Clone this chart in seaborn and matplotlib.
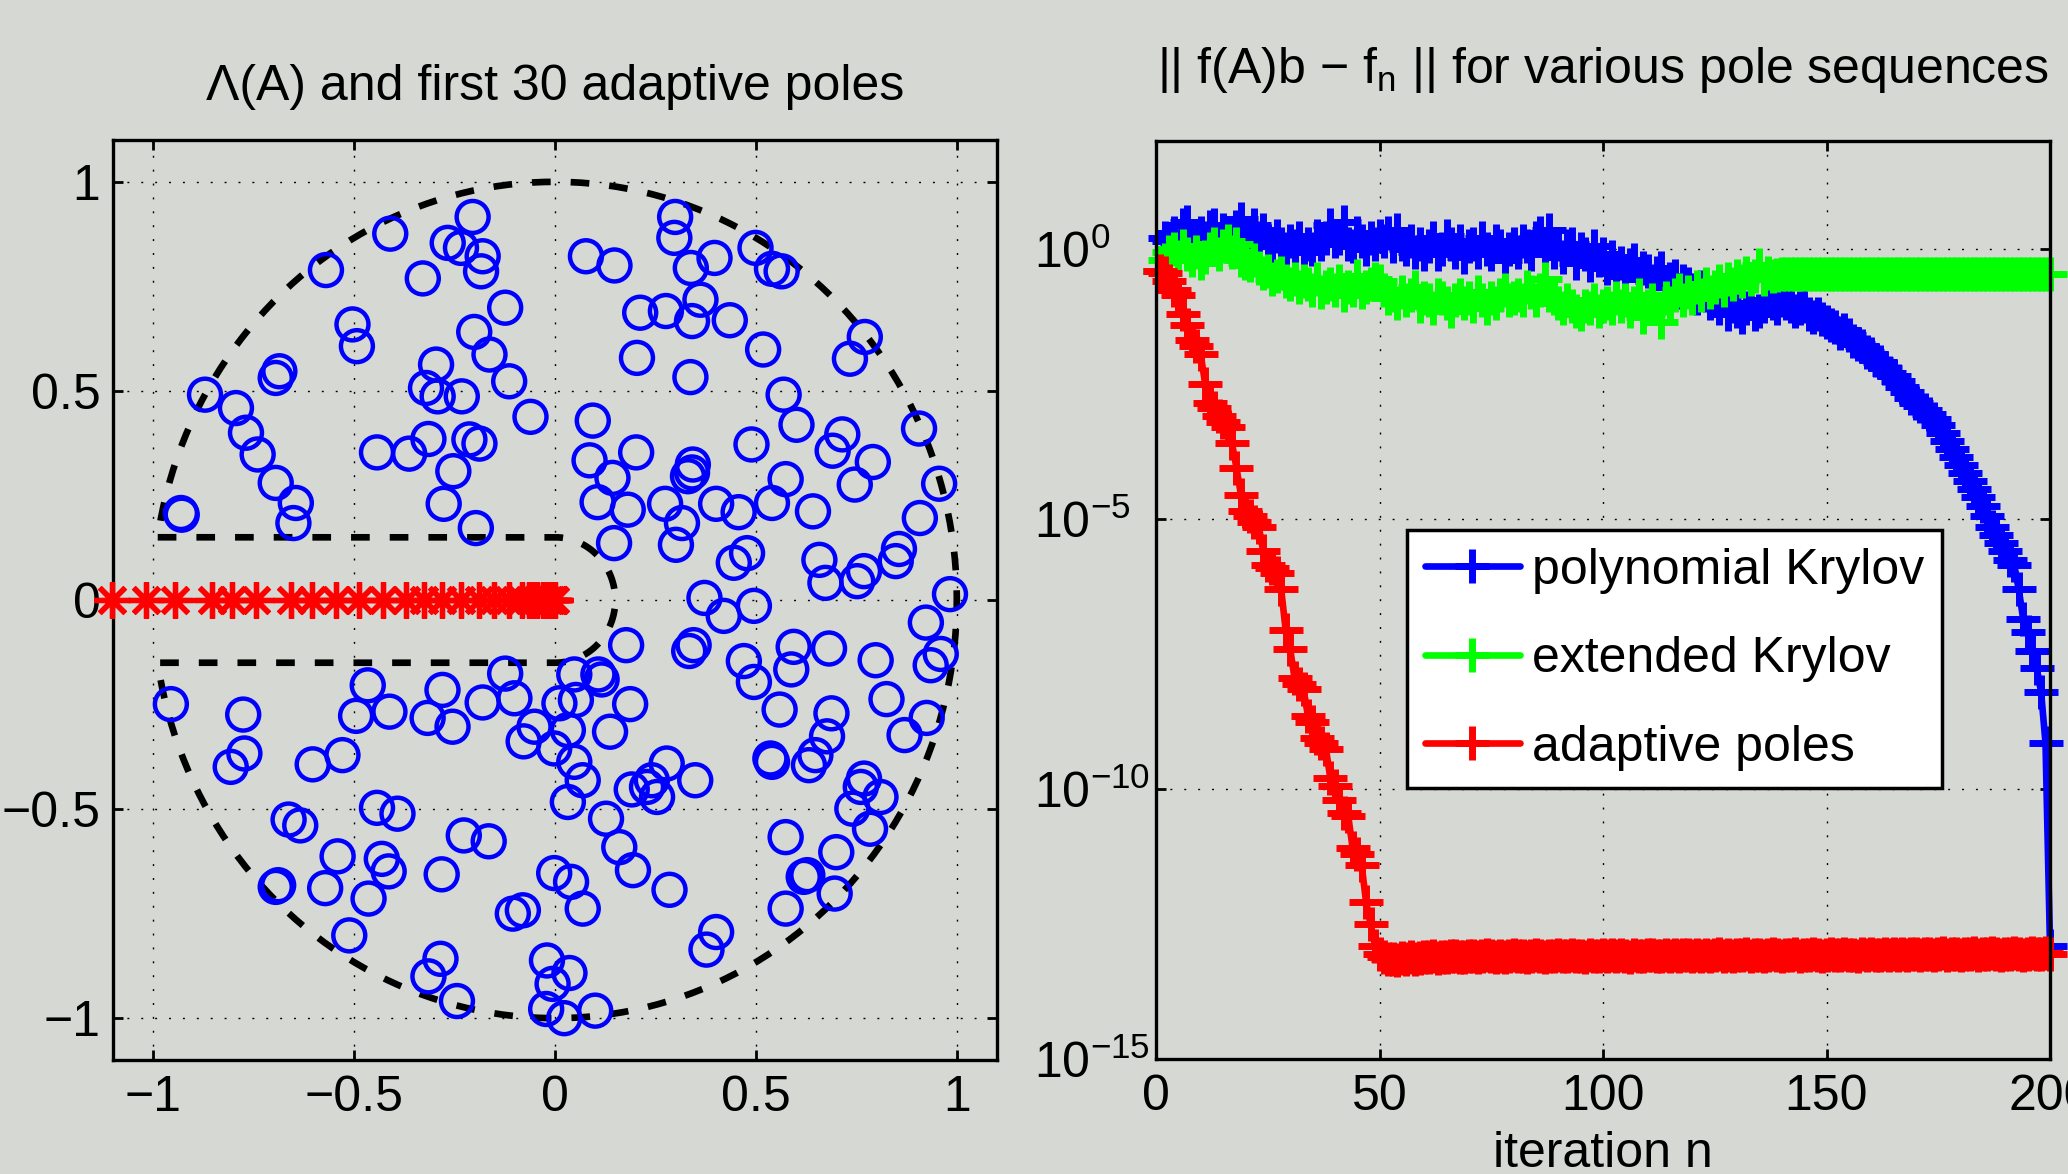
import numpy as np
import matplotlib
matplotlib.use("Agg")
import matplotlib.pyplot as plt
import seaborn as sns
from matplotlib.ticker import FixedLocator, NullLocator, LogFormatterMathtext

# ---- left panel data: eigenvalues of A (real / imaginary parts) ----
eig_re = [-0.410, -0.205, -0.267, -0.234, -0.180, -0.184, -0.329, -0.570, -0.124, -0.504,
          -0.493, -0.201, -0.163, -0.686, -0.695, -0.296, -0.321, -0.292, -0.232, -0.114,
          -0.871, -0.794, -0.769, -0.740, -0.695, -0.645, -0.651, -0.931, -0.929, -0.061,
          -0.443, -0.363, -0.315, -0.213, -0.188, -0.253, -0.277, -0.197,
          0.077, 0.148, 0.299, 0.297, 0.338, 0.397, 0.499, 0.540, 0.564, 0.362,
          0.212, 0.276, 0.341, 0.435, 0.204, 0.337, 0.518, 0.771, 0.734, 0.094,
          0.086, 0.202, 0.143, 0.106, 0.181, 0.147, 0.274, 0.316, 0.301, 0.343,
          0.341, 0.331, 0.401, 0.457, 0.489, 0.569, 0.601, 0.574, 0.540, 0.642,
          0.715, 0.691, 0.791, 0.746, 0.906, 0.956, 0.908, 0.856, 0.848, 0.478,
          0.445, 0.658, 0.673, 0.769, 0.752, 0.983, 0.372, 0.495, 0.420,
          -0.956, -0.776, -0.773, -0.807, -0.603, -0.529, -0.466, -0.495, -0.412, -0.280,
          -0.317, -0.255, -0.180, -0.124, -0.101, -0.051, -0.078, 0.011, 0.048, 0.052,
          0.032, -0.002, 0.048, 0.069, 0.032, -0.663, -0.634, -0.443, -0.392, -0.541,
          -0.431, -0.414, -0.572, -0.464, -0.695, -0.689, -0.512, -0.227, -0.165, -0.282,
          -0.105, -0.080, -0.002, 0.040, 0.069, -0.285, -0.315, -0.244, -0.020, 0.036,
          -0.006, -0.022, 0.023, 0.100,
          0.177, 0.345, 0.334, 0.108, 0.116, 0.187, 0.137, 0.278, 0.241, 0.229,
          0.254, 0.191, 0.349, 0.127, 0.160, 0.194, 0.285, 0.401, 0.377, 0.470,
          0.495, 0.559, 0.594, 0.588, 0.682, 0.536, 0.540, 0.632, 0.648, 0.677,
          0.688, 0.798, 0.825, 0.923, 0.960, 0.935, 0.925, 0.870, 0.769, 0.761,
          0.810, 0.740, 0.784, 0.574, 0.700, 0.628, 0.619, 0.696, 0.574]
eig_im = [0.876, 0.916, 0.854, 0.842, 0.822, 0.786, 0.769, 0.789, 0.699, 0.659,
          0.607, 0.641, 0.587, 0.547, 0.531, 0.563, 0.507, 0.487, 0.487, 0.523,
          0.491, 0.459, 0.400, 0.348, 0.280, 0.232, 0.184, 0.208, 0.204, 0.438,
          0.353, 0.350, 0.385, 0.384, 0.374, 0.308, 0.230, 0.172,
          0.822, 0.800, 0.916, 0.866, 0.794, 0.818, 0.842, 0.792, 0.786, 0.718,
          0.687, 0.691, 0.667, 0.669, 0.579, 0.533, 0.599, 0.629, 0.577, 0.429,
          0.334, 0.353, 0.292, 0.234, 0.216, 0.136, 0.230, 0.184, 0.132, 0.324,
          0.305, 0.296, 0.230, 0.210, 0.372, 0.491, 0.419, 0.289, 0.232, 0.212,
          0.396, 0.357, 0.330, 0.276, 0.410, 0.278, 0.196, 0.122, 0.093, 0.112,
          0.089, 0.096, 0.041, 0.069, 0.045, 0.014, 0.005, -0.014, -0.038,
          -0.249, -0.274, -0.367, -0.399, -0.393, -0.371, -0.204, -0.277, -0.267, -0.215,
          -0.282, -0.303, -0.245, -0.176, -0.235, -0.303, -0.338, -0.247, -0.178, -0.239,
          -0.311, -0.355, -0.387, -0.431, -0.483, -0.525, -0.539, -0.497, -0.511, -0.613,
          -0.619, -0.649, -0.689, -0.714, -0.686, -0.682, -0.802, -0.563, -0.577, -0.656,
          -0.750, -0.742, -0.653, -0.674, -0.738, -0.858, -0.900, -0.959, -0.862, -0.892,
          -0.918, -0.978, -1.000, -0.982,
          -0.108, -0.108, -0.122, -0.178, -0.190, -0.249, -0.315, -0.391, -0.431, -0.447,
          -0.471, -0.453, -0.431, -0.523, -0.591, -0.646, -0.693, -0.794, -0.836, -0.146,
          -0.196, -0.262, -0.112, -0.166, -0.116, -0.379, -0.387, -0.395, -0.371, -0.326,
          -0.271, -0.144, -0.237, -0.054, -0.129, -0.156, -0.282, -0.323, -0.427, -0.447,
          -0.471, -0.499, -0.547, -0.567, -0.603, -0.658, -0.662, -0.702, -0.738]

# first 30 adaptive poles (all on the negative real axis)
pole_re = [-1.102, -1.019, -0.946, -0.853, -0.803, -0.745, -0.658, -0.604, -0.545, -0.487,
           -0.429, -0.371, -0.326, -0.280, -0.234, -0.189, -0.151, -0.114, -0.081, -0.064,
           -0.056, -0.045, -0.031, -0.022, -0.014, -0.009, -0.006, -0.003, -0.002, -0.001]

# region boundary (unit disc with slit of half-width 0.15)
disc_radius = 1.0
slit_halfwidth = 0.15

# ---- right panel data: log10 of || f(A)b - f_n || ----
iters = list(range(1, 201))
log_err_poly = [
    -0.40, 0.20, 0.15, 0.30, 0.05, 0.45, 0.50, 0.25, 0.10, 0.30,
    0.20, 0.40, 0.45, 0.15, 0.35, 0.10, 0.20, 0.40, 0.55, 0.30,
    0.25, 0.45, 0.20, 0.35, 0.15, 0.05, 0.25, 0.10, 0.00, 0.15,
    0.05, 0.20, -0.05, 0.10, 0.00, 0.25, 0.10, 0.20, 0.45, 0.15,
    0.20, 0.50, 0.10, 0.05, 0.30, 0.15, 0.00, 0.20, 0.10, 0.25,
    0.15, 0.30, 0.05, 0.35, 0.10, 0.00, 0.15, -0.05, 0.10, -0.10,
    0.05, 0.20, -0.10, 0.00, 0.25, 0.10, -0.05, 0.15, -0.15, 0.05,
    0.10, -0.05, 0.20, 0.00, -0.10, 0.15, 0.05, -0.20, 0.00, 0.10,
    -0.05, 0.15, 0.05, -0.10, 0.20, 0.30, 0.00, 0.35, -0.05, 0.10,
    -0.15, 0.05, 0.10, -0.25, 0.00, -0.10, -0.30, 0.05, -0.20, -0.10,
    -0.35, -0.15, -0.45, -0.25, -0.50, -0.30, -0.20, -0.55, -0.35, -0.40,
    -0.60, -0.45, -0.35, -0.70, -0.55, -0.50, -0.80, -0.60, -0.65, -0.75,
    -0.90, -0.70, -0.85, -1.00, -0.95, -1.10, -0.90, -1.20, -1.05, -1.15,
    -1.25, -1.10, -1.00, -1.20, -1.15, -1.05, -0.95, -1.00, -1.10, -0.95,
    -1.00, -1.05, -1.15, -1.10, -1.05, -1.20, -1.25, -1.20, -1.30, -1.35,
    -1.40, -1.45, -1.55, -1.50, -1.60, -1.70, -1.75, -1.80, -1.90, -1.95,
    -2.05, -2.10, -2.20, -2.30, -2.35, -2.45, -2.55, -2.65, -2.75, -2.85,
    -2.90, -2.98, -3.05, -3.15, -3.25, -3.40, -3.55, -3.70, -3.85, -4.00,
    -4.15, -4.30, -4.45, -4.60, -4.75, -4.95, -5.15, -5.30, -5.45, -5.60,
    -5.75, -5.85, -6.30, -6.85, -7.10, -7.45, -7.75, -8.20, -9.15, -12.90]
log_err_ext = [
    -0.40, -0.20, -0.05, 0.00, -0.15, 0.05, -0.10, -0.20, -0.05, -0.25,
    -0.15, 0.00, 0.10, -0.10, 0.05, 0.15, -0.05, 0.10, -0.20, -0.25,
    -0.30, -0.20, -0.35, -0.45, -0.40, -0.55, -0.50, -0.45, -0.60, -0.65,
    -0.55, -0.70, -0.60, -0.65, -0.75, -0.55, -0.80, -0.70, -0.65, -0.75,
    -0.60, -0.85, -0.70, -0.75, -0.50, -0.80, -0.70, -0.65, -0.55, -0.60,
    -0.75, -0.90, -0.85, -1.00, -0.80, -0.95, -0.85, -0.70, -1.05, -0.90,
    -0.95, -1.10, -0.85, -0.90, -1.00, -1.15, -0.95, -0.85, -1.00, -0.90,
    -1.05, -0.80, -0.95, -1.10, -0.90, -1.00, -0.85, -0.75, -0.95, -0.90,
    -0.85, -0.95, -0.70, -0.80, -0.95, -0.75, -0.55, -0.85, -0.90, -1.00,
    -1.10, -0.95, -1.05, -1.15, -1.20, -1.05, -1.10, -0.95, -1.15, -1.05,
    -1.00, -1.10, -0.90, -1.05, -0.95, -1.15, -1.00, -0.85, -1.25, -1.05,
    -0.95, -1.10, -1.35, -0.90, -1.00, -0.85, -0.75, -0.95, -0.80, -0.90,
    -0.70, -0.85, -0.65, -0.80, -0.70, -0.60, -0.75, -0.55, -0.65, -0.50,
    -0.60, -0.45, -0.55, -0.50, -0.30, -0.55, -0.45, -0.50, -0.48, -0.47,
    -0.47, -0.47, -0.47, -0.47, -0.47, -0.47, -0.47, -0.47, -0.47, -0.47,
    -0.47, -0.47, -0.47, -0.47, -0.47, -0.47, -0.47, -0.47, -0.47, -0.47,
    -0.47, -0.47, -0.47, -0.47, -0.47, -0.47, -0.47, -0.47, -0.47, -0.47,
    -0.47, -0.47, -0.47, -0.47, -0.47, -0.47, -0.47, -0.47, -0.47, -0.47,
    -0.47, -0.47, -0.47, -0.47, -0.47, -0.47, -0.47, -0.47, -0.47, -0.47,
    -0.47, -0.47, -0.47, -0.47, -0.47, -0.47, -0.47, -0.47, -0.47, -0.47]
log_err_adapt = [
    -0.40, -0.45, -0.60, -0.75, -0.85, -1.20, -1.40, -1.68, -1.80, -1.95,
    -2.50, -2.85, -2.95, -3.10, -3.20, -3.30, -3.60, -4.05, -4.55, -4.85,
    -4.95, -5.05, -5.15, -5.60, -5.85, -5.90, -6.00, -6.30, -7.05, -7.40,
    -7.95, -8.05, -8.15, -8.65, -8.75, -9.05, -9.15, -9.25, -9.80, -9.95,
    -10.20, -10.45, -10.50, -11.10, -11.20, -11.40, -12.10, -12.50, -12.90, -13.05,
    -13.12, -13.15, -13.14, -13.16, -13.13, -13.15, -13.12, -13.14, -13.13, -13.11,
    -13.12, -13.10, -13.13, -13.11, -13.12, -13.10, -13.09, -13.11, -13.12, -13.10,
    -13.09, -13.11, -13.10, -13.08, -13.10, -13.12, -13.09, -13.11, -13.10, -13.08,
    -13.10, -13.09, -13.11, -13.10, -13.08, -13.09, -13.11, -13.10, -13.09, -13.07,
    -13.09, -13.10, -13.08, -13.10, -13.09, -13.11, -13.08, -13.09, -13.10, -13.08,
    -13.09, -13.07, -13.10, -13.08, -13.09, -13.11, -13.08, -13.10, -13.09, -13.07,
    -13.08, -13.10, -13.09, -13.07, -13.09, -13.08, -13.10, -13.08, -13.07, -13.09,
    -13.08, -13.10, -13.07, -13.09, -13.08, -13.06, -13.09, -13.08, -13.10, -13.07,
    -13.08, -13.06, -13.09, -13.07, -13.08, -13.10, -13.07, -13.06, -13.08, -13.09,
    -13.07, -13.08, -13.06, -13.09, -13.07, -13.08, -13.06, -13.07, -13.09, -13.08,
    -13.06, -13.08, -13.07, -13.05, -13.08, -13.07, -13.09, -13.06, -13.07, -13.05,
    -13.07, -13.08, -13.06, -13.07, -13.05, -13.08, -13.06, -13.07, -13.05, -13.06,
    -13.08, -13.06, -13.05, -13.07, -13.06, -13.04, -13.07, -13.05, -13.06, -13.08,
    -13.05, -13.06, -13.04, -13.07, -13.05, -13.06, -13.04, -13.05, -13.07, -13.05,
    -13.06, -13.04, -13.05, -13.07, -13.05, -13.04, -13.06, -13.05, -13.04, -13.06]

series_labels = ["polynomial Krylov", "extended Krylov", "adaptive poles"]
series_colors = ["#0000ff", "#00ff00", "#ff0000"]

bg = "#d6d8d4"
sns.set_theme(style="ticks", rc={
    "figure.facecolor": bg, "axes.facecolor": bg, "savefig.facecolor": bg,
    "axes.edgecolor": "black", "axes.linewidth": 2.4,
    "xtick.direction": "in", "ytick.direction": "in",
    "xtick.top": True, "ytick.right": True,
    "xtick.major.size": 7, "ytick.major.size": 7,
    "xtick.major.width": 2, "ytick.major.width": 2,
    "xtick.color": "black", "ytick.color": "black", "text.color": "black",
    "axes.labelcolor": "black",
})
plt.rcParams["font.family"] = ["Liberation Sans", "DejaVu Sans"]
plt.rcParams["mathtext.fontset"] = "custom"
plt.rcParams["mathtext.rm"] = "Liberation Sans"
plt.rcParams["mathtext.it"] = "Liberation Sans:italic"
plt.rcParams["mathtext.default"] = "regular"
FS = 36

fig = plt.figure(figsize=(20.68, 11.74), dpi=100)
ax1 = fig.add_axes([113 / 2068, 1 - 1060 / 1174, 884 / 2068, 920 / 1174])
ax2 = fig.add_axes([1156 / 2068, 1 - 1059 / 1174, 894 / 2068, 918 / 1174])

grid_kw = dict(color="black", linestyle=(0, (1.4, 8.6)), linewidth=1.0)

# ---- left panel ----
a = np.arcsin(slit_halfwidth / disc_radius)
c = np.sqrt(disc_radius ** 2 - slit_halfwidth ** 2)
th_out = np.linspace(-(np.pi - a), np.pi - a, 400)
th_in = np.linspace(np.pi / 2, -np.pi / 2, 60)
# outline: top of slit -> notch around the origin -> bottom of slit -> outer arc
bx = np.concatenate([[-c, 0], slit_halfwidth * np.cos(th_in), [0, -c],
                     disc_radius * np.cos(th_out)])
by = np.concatenate([[slit_halfwidth, slit_halfwidth], slit_halfwidth * np.sin(th_in),
                     [-slit_halfwidth, -slit_halfwidth], disc_radius * np.sin(th_out)])
ax1.plot(bx, by, color="black", lw=4.8, linestyle=(0, (2.8, 3.0)), zorder=2)

sns.scatterplot(x=eig_re, y=eig_im, ax=ax1, marker="o", s=23 ** 2,
                facecolor="none", edgecolor="#0000ff", linewidth=3.2, zorder=3)
sns.lineplot(x=pole_re, y=[0.0] * len(pole_re), ax=ax1, color="#ff0000", linestyle="",
             marker=(8, 2, 0), markersize=26, markeredgewidth=3.8,
             markeredgecolor="#ff0000", clip_on=False, zorder=4, sort=False)

ax1.set_xlim(-1.1, 1.1)
ax1.set_ylim(-1.1, 1.1)
ax1.xaxis.set_major_locator(FixedLocator([-1, -0.5, 0, 0.5, 1]))
ax1.yaxis.set_major_locator(FixedLocator([-1, -0.5, 0, 0.5, 1]))
ax1.set_xticklabels(["\u22121", "\u22120.5", "0", "0.5", "1"])
ax1.set_yticklabels(["\u22121", "\u22120.5", "0", "0.5", "1"])
ax1.tick_params(axis="both", labelsize=FS)
ax1.tick_params(axis="x", pad=11)
ax1.tick_params(axis="y", pad=9)
ax1.grid(True, **grid_kw)
ax1.set_axisbelow(True)
ax1.set_xlabel("")
ax1.set_ylabel("")
ax1.set_title("\u039b(A) and first 30 adaptive poles", fontsize=FS, pad=29)

# ---- right panel ----
for vals, lab, col in zip([log_err_poly, log_err_ext, log_err_adapt], series_labels, series_colors):
    sns.lineplot(x=iters, y=[10.0 ** v for v in vals], ax=ax2, color=col, lw=4.8,
                 marker="+", markersize=24, markeredgewidth=5, markeredgecolor=col,
                 label=lab, clip_on=False, sort=False)

ax2.set_yscale("log")
ax2.set_xlim(0, 200)
ax2.set_ylim(1e-15, 1e2)
ax2.xaxis.set_major_locator(FixedLocator([0, 50, 100, 150, 200]))
ax2.yaxis.set_major_locator(FixedLocator([1e-15, 1e-10, 1e-5, 1e0]))
ax2.yaxis.set_minor_locator(NullLocator())
ax2.yaxis.set_major_formatter(LogFormatterMathtext())
ax2.tick_params(axis="both", labelsize=FS)
ax2.tick_params(axis="x", pad=11)
ax2.tick_params(axis="y", pad=88)
for lbl in ax2.get_yticklabels():
    lbl.set_horizontalalignment("left")
ax2.grid(True, **grid_kw)
ax2.set_axisbelow(True)
ax2.set_ylabel("")
ax2.set_xlabel("iteration n", fontsize=FS, labelpad=8)
ax2.set_title("|| f(A)b \u2212 f$_{n}$ || for various pole sequences", fontsize=FS, pad=42)

leg = ax2.legend(loc="upper left", bbox_to_anchor=(0.281, 0.576), fontsize=FS,
                 frameon=True, fancybox=False, framealpha=1, facecolor="white",
                 edgecolor="black", borderpad=0.35, labelspacing=0.85,
                 handlelength=1.9, handletextpad=0.25, borderaxespad=0)
leg.get_frame().set_linewidth(2.5)
leg.set_zorder(10)

fig.savefig("out.png", dpi=100, facecolor=bg)
